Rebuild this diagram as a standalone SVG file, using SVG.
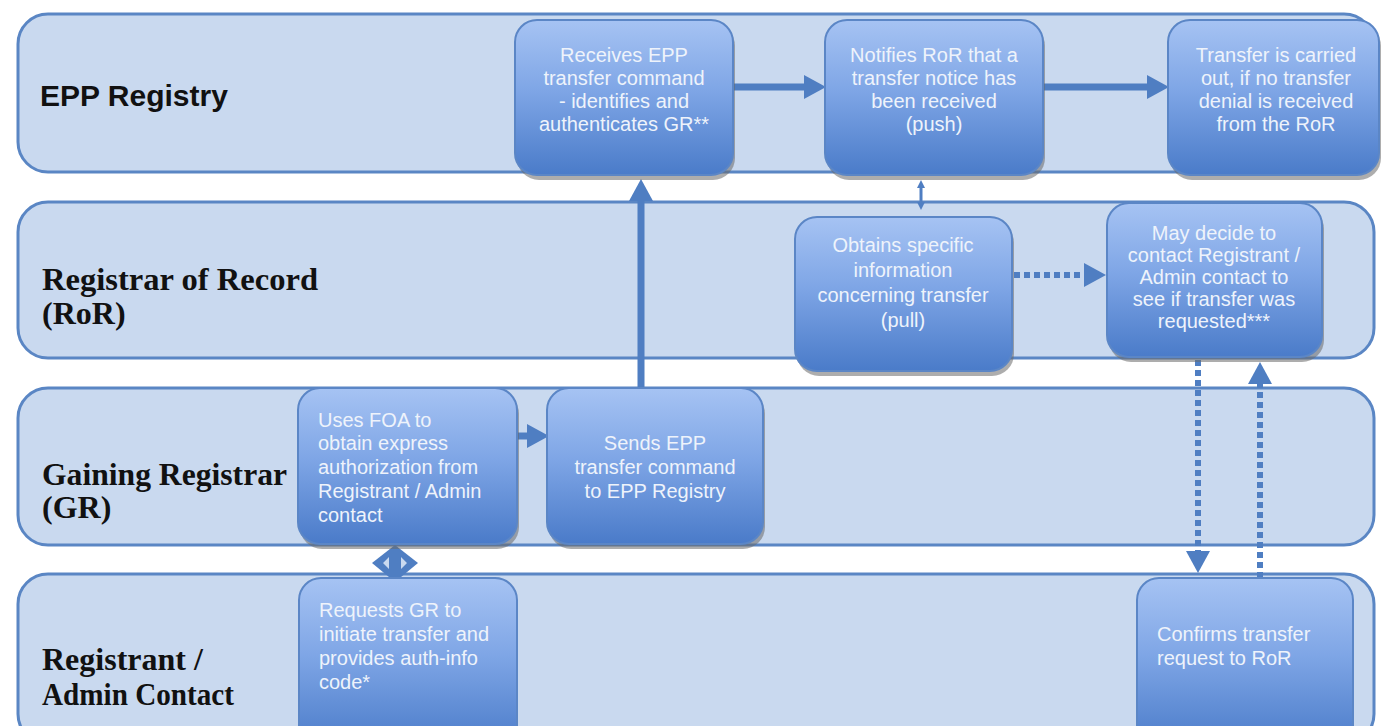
<svg xmlns="http://www.w3.org/2000/svg" width="1381" height="726" viewBox="0 0 1381 726">
<defs>
<linearGradient id="ng" x1="0" y1="0" x2="0" y2="1">
<stop offset="0" stop-color="#a6c3f3"/>
<stop offset="0.45" stop-color="#7fa6e6"/>
<stop offset="1" stop-color="#4a7bc9"/>
</linearGradient>
<marker id="ah" markerUnits="userSpaceOnUse" markerWidth="24" markerHeight="26" refX="0" refY="13" orient="auto" viewBox="0 0 24 26">
<path d="M0,1 L22,13 L0,25 z" fill="#4f7ec2"/>
</marker>
<marker id="ahs" markerUnits="userSpaceOnUse" markerWidth="10" markerHeight="10" refX="0" refY="5" orient="auto-start-reverse" viewBox="0 0 10 10">
<path d="M0,1 L8,5 L0,9 z" fill="#4f7ec2"/>
</marker>
</defs>
<style>
.lane{fill:#c9d9ef;stroke:#5a86c4;stroke-width:3}
.lbl{font-family:"Liberation Serif",serif;font-weight:bold;font-size:32px;fill:#111}
.lbls{font-family:"Liberation Sans",Arial,sans-serif;font-weight:bold;font-size:30px;fill:#111}
.node{fill:url(#ng);stroke:#5b86c6;stroke-width:2}
.shd{fill:#6a6a6a;opacity:0.55}
.nt{font-family:"Liberation Sans",Arial,sans-serif;font-size:20px;fill:#eef3fb}
.c{text-anchor:middle}
.con{stroke:#4f7ec2;stroke-width:7;fill:none}
.dot{stroke:#4f7ec2;stroke-width:6;fill:none;stroke-dasharray:6 4}
</style>
<rect width="1381" height="726" fill="#ffffff"/>

<g id="lane-epp">
<rect class="lane" x="18" y="14" width="1356" height="158" rx="30"/>
<text class="lbls" x="40" y="106">EPP Registry</text>
</g>
<g id="lane-ror">
<rect class="lane" x="18" y="202" width="1356" height="156" rx="30"/>
<text class="lbl" x="42" y="290" textLength="276" lengthAdjust="spacingAndGlyphs">Registrar of Record</text>
<text class="lbl" x="42" y="324">(RoR)</text>
</g>
<g id="lane-gr">
<rect class="lane" x="18" y="388" width="1356" height="157" rx="30"/>
<text class="lbl" x="42" y="485" textLength="245" lengthAdjust="spacingAndGlyphs">Gaining Registrar</text>
<text class="lbl" x="42" y="518">(GR)</text>
</g>
<g id="lane-reg">
<rect class="lane" x="18" y="574" width="1356" height="170" rx="30"/>
<text class="lbl" x="42" y="670">Registrant /</text>
<text class="lbl" x="42" y="705" textLength="192" lengthAdjust="spacingAndGlyphs">Admin Contact</text>
</g>

<g id="connectors">
<line class="con" x1="733" y1="87" x2="804" y2="87" marker-end="url(#ah)"/>
<line class="con" x1="1043" y1="87" x2="1147" y2="87" marker-end="url(#ah)"/>
<line class="con" x1="641" y1="388" x2="641" y2="201" marker-end="url(#ah)"/>
<line class="con" x1="517" y1="436" x2="527" y2="436" marker-end="url(#ah)"/>
<line stroke="#4f7ec2" stroke-width="3" x1="921" y1="188" x2="921" y2="202" marker-end="url(#ahs)" marker-start="url(#ahs)"/>
<line class="dot" x1="1014" y1="275" x2="1084" y2="275" marker-end="url(#ah)"/>
<line class="dot" x1="1198" y1="360" x2="1198" y2="551" marker-end="url(#ah)"/>
<line class="dot" x1="1260" y1="578" x2="1260" y2="384" marker-end="url(#ah)"/>
<path d="M395,545 L418,563 L395,582 L372,563 z" fill="#4f7ec2"/>
<path d="M389,557 L383,563 L389,569 z M401,557 L407,563 L401,569 z" fill="#c9d9ef"/>
</g>

<g id="n-receives">
<rect class="shd" x="517" y="24" width="218" height="156" rx="22"/>
<rect class="node" x="515" y="20" width="218" height="155" rx="22"/>
<text class="nt c" x="624" y="62">Receives EPP</text>
<text class="nt c" x="624" y="85">transfer command</text>
<text class="nt c" x="624" y="108">- identifies and</text>
<text class="nt c" x="624" y="131">authenticates GR**</text>
</g>
<g id="n-notifies">
<rect class="shd" x="827" y="24" width="218" height="156" rx="22"/>
<rect class="node" x="825" y="20" width="218" height="155" rx="22"/>
<text class="nt c" x="934" y="62">Notifies RoR that a</text>
<text class="nt c" x="934" y="85">transfer notice has</text>
<text class="nt c" x="934" y="108">been received</text>
<text class="nt c" x="934" y="131">(push)</text>
</g>
<g id="n-carried">
<rect class="shd" x="1170" y="24" width="211" height="156" rx="22"/>
<rect class="node" x="1168" y="20" width="211" height="155" rx="22"/>
<text class="nt c" x="1276" y="62">Transfer is carried</text>
<text class="nt c" x="1276" y="85">out, if no transfer</text>
<text class="nt c" x="1276" y="108">denial is received</text>
<text class="nt c" x="1276" y="131">from the RoR</text>
</g>
<g id="n-obtains">
<rect class="shd" x="797" y="221" width="217" height="155" rx="22"/>
<rect class="node" x="795" y="217" width="217" height="154" rx="22"/>
<text class="nt c" x="903" y="252">Obtains specific</text>
<text class="nt c" x="903" y="277">information</text>
<text class="nt c" x="903" y="302">concerning transfer</text>
<text class="nt c" x="903" y="327">(pull)</text>
</g>
<g id="n-maydecide">
<rect class="shd" x="1109" y="207" width="215" height="155" rx="22"/>
<rect class="node" x="1107" y="203" width="215" height="154" rx="22"/>
<text class="nt c" x="1214" y="240">May decide to</text>
<text class="nt c" x="1214" y="262">contact Registrant /</text>
<text class="nt c" x="1214" y="284">Admin contact to</text>
<text class="nt c" x="1214" y="306">see if transfer was</text>
<text class="nt c" x="1214" y="328">requested***</text>
</g>
<g id="n-usesfoa">
<rect class="shd" x="300" y="392" width="219" height="157" rx="22"/>
<rect class="node" x="298" y="388" width="219" height="156" rx="22"/>
<text class="nt" x="318" y="427">Uses FOA to</text>
<text class="nt" x="318" y="450">obtain express</text>
<text class="nt" x="318" y="474">authorization from</text>
<text class="nt" x="318" y="498">Registrant / Admin</text>
<text class="nt" x="318" y="522">contact</text>
</g>
<g id="n-sends">
<rect class="shd" x="549" y="392" width="216" height="157" rx="22"/>
<rect class="node" x="547" y="388" width="216" height="156" rx="22"/>
<text class="nt c" x="655" y="450">Sends EPP</text>
<text class="nt c" x="655" y="474">transfer command</text>
<text class="nt c" x="655" y="498">to EPP Registry</text>
</g>
<g id="n-requests">
<rect class="node" x="299" y="578" width="218" height="170" rx="22"/>
<text class="nt" x="319" y="617">Requests GR to</text>
<text class="nt" x="319" y="641">initiate transfer and</text>
<text class="nt" x="319" y="665">provides auth-info</text>
<text class="nt" x="319" y="689">code*</text>
</g>
<g id="n-confirms">
<rect class="node" x="1137" y="578" width="216" height="170" rx="22"/>
<text class="nt" x="1157" y="641">Confirms transfer</text>
<text class="nt" x="1157" y="665">request to RoR</text>
</g>
</svg>
